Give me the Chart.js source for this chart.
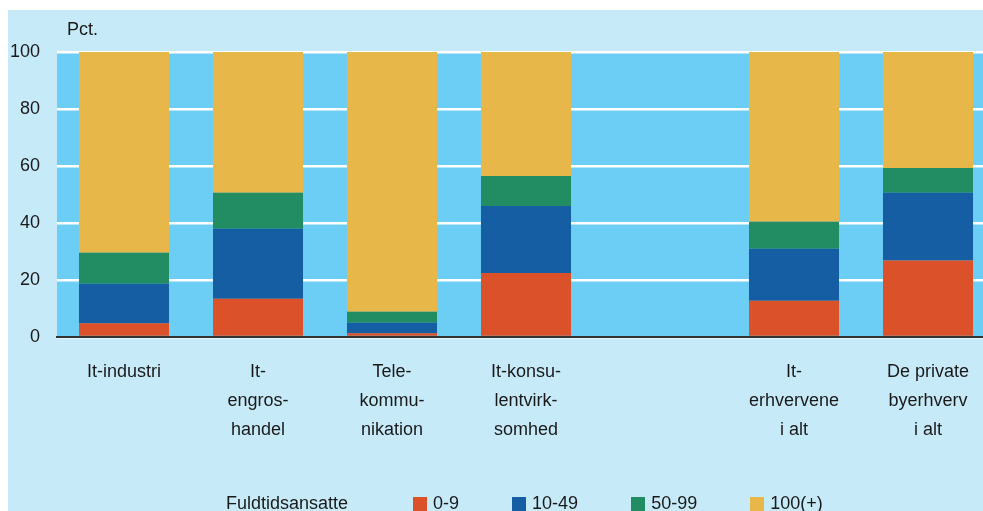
<!DOCTYPE html>
<html>
<head>
<meta charset="utf-8">
<script src="https://cdn.jsdelivr.net/npm/chart.js@4.4.1/dist/chart.umd.min.js"></script>
<style>
    html, body { margin: 0; padding: 0; background: #fff; overflow: hidden; width: 983px; height: 511px; }
    #panel { position: absolute; left: 8px; top: 10px; width: 1000px; height: 501px; background: #c7eaf9; }
    #wrap { position: absolute; left: 0; top: 0; width: 987px; height: 501px; }
    #legend { position: absolute; left: 218px; top: 483px; display: flex; align-items: center;
              font: 18px "Liberation Sans", Arial, sans-serif; color: #1a1a1a; line-height: 20px; white-space: nowrap; }
    #legend .title { margin-right: 65px; }
    #legend .item { display: flex; align-items: center; margin-right: 53px; }
    #legend .box { width: 14px; height: 15px; margin-right: 6px; margin-top: 3px; }
</style>
</head>
<body>
<div id="panel">
    <div id="wrap"><canvas id="chart"></canvas></div>
    <div id="legend"><span class="title">Fuldtidsansatte</span></div>
</div>
<script>
// Data
const categories = [
    ['It-industri'],
    ['It-', 'engros-', 'handel'],
    ['Tele-', 'kommu-', 'nikation'],
    ['It-konsu-', 'lentvirk-', 'somhed'],
    '',
    ['It-', 'erhvervene', 'i alt'],
    ['De private', 'byerhverv', 'i alt']
];
const sizeBands = ['0-9', '10-49', '50-99', '100(+)'];
const share0to9 = [4.8, 13.4, 1.3, 22.5, null, 12.7, 26.8];
const share10to49 = [13.9, 24.6, 3.7, 23.5, null, 18.3, 23.8];
const share50to99 = [10.9, 12.6, 3.9, 10.5, null, 9.4, 8.7];
const share100plus = [70.4, 49.4, 91.1, 43.5, null, 59.6, 40.7];
const yTicks = [0, 20, 40, 60, 80, 100];

const bandColors = ['#db512a', '#155ea3', '#228c63', '#e7b74a'];
const FONT = '"Liberation Sans", Arial, sans-serif';

// Plot background + "Pct." label
const plotBackground = {
    id: 'plotBackground',
    beforeDraw(chart) {
        const { ctx, chartArea } = chart;
        ctx.save();
        ctx.fillStyle = '#6dcef5';
        ctx.fillRect(chartArea.left, chartArea.top, chartArea.right - chartArea.left, chartArea.bottom - chartArea.top);
        ctx.fillStyle = '#1a1a1a';
        ctx.font = '18px ' + FONT;
        ctx.textAlign = 'left';
        ctx.textBaseline = 'middle';
        ctx.fillText('Pct.', chartArea.left + 10, chartArea.top - 22);
        ctx.restore();
    }
};

const seriesValues = [share0to9, share10to49, share50to99, share100plus];

const ctx = document.getElementById('chart').getContext('2d');
const chart = new Chart(ctx, {
    type: 'bar',
    data: {
        labels: categories,
        datasets: sizeBands.map((band, i) => ({
            label: band,
            data: seriesValues[i],
            backgroundColor: bandColors[i],
            borderWidth: 0,
            barPercentage: 0.672,
            categoryPercentage: 1
        }))
    },
    options: {
        responsive: true,
        maintainAspectRatio: false,
        animation: false,
        layout: { padding: { top: 42, left: 0, right: 0, bottom: 0 } },
        plugins: {
            legend: { display: false },
            tooltip: { enabled: false }
        },
        scales: {
            x: {
                stacked: true,
                grid: { display: false, drawTicks: false },
                border: { display: true, color: '#333', width: 2 },
                ticks: {
                    color: '#1a1a1a',
                    font: { family: FONT, size: 18, lineHeight: 1.6 },
                    padding: 21,
                    maxRotation: 0,
                    autoSkip: false
                },
                afterFit: (scale) => { scale.height = 174; }
            },
            y: {
                stacked: true,
                min: 0,
                max: 100,
                afterBuildTicks: (scale) => { scale.ticks = yTicks.map(v => ({ value: v })); },
                grid: { color: '#ffffff', lineWidth: 2.5, drawTicks: false },
                border: { display: false },
                ticks: {
                    color: '#1a1a1a',
                    font: { family: FONT, size: 18 },
                    padding: 17
                },
                afterFit: (scale) => { scale.width = 49; }
            }
        }
    },
    plugins: [plotBackground]
});

// HTML legend built from the datasets
const legend = document.getElementById('legend');
chart.data.datasets.forEach(ds => {
    const item = document.createElement('span');
    item.className = 'item';
    item.innerHTML = '<span class="box" style="background:' + ds.backgroundColor + '"></span>' + ds.label;
    legend.appendChild(item);
});
</script>
</body>
</html>
